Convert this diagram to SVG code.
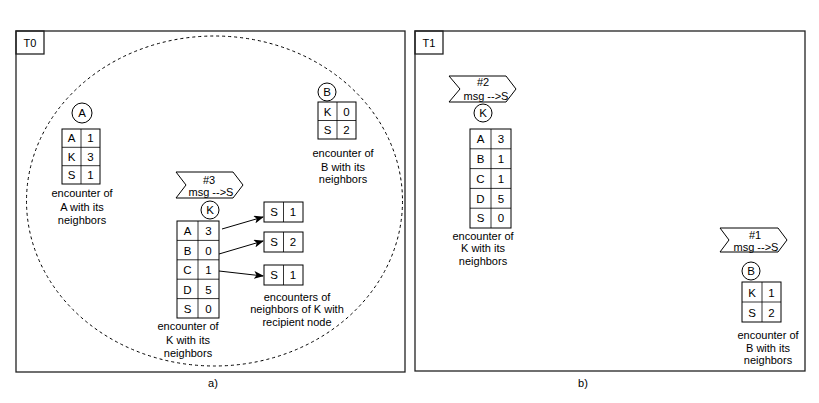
<svg xmlns="http://www.w3.org/2000/svg" width="819" height="403" viewBox="0 0 819 403">
<style>
text{font-family:"Liberation Sans",Arial,sans-serif;fill:#000;text-anchor:middle}
.cap{font-size:11px}
.cell{font-size:11.5px}
.frame{fill:none;stroke:#222;stroke-width:1.3}
.box{fill:#fff;stroke:#000;stroke-width:1}
.grid{stroke:#000;stroke-width:0.8;fill:none}
.edge{stroke:#000;stroke-width:1;fill:none}
</style>
<defs>
<marker id="arr" markerWidth="10" markerHeight="8" refX="9" refY="4" orient="auto" markerUnits="userSpaceOnUse">
<path d="M0,0 L10,4 L0,8 L2.5,4 Z" fill="#000"/>
</marker>
</defs>
<rect width="819" height="403" fill="#fff"/>

<g id="panel-a">
<rect class="frame" x="16" y="31" width="389" height="341"/>
<rect class="frame" x="16" y="31" width="28" height="23"/>
<text class="cap" x="30" y="47">T0</text>
<ellipse cx="214.5" cy="201" rx="188" ry="165" fill="none" stroke="#000" stroke-width="1" stroke-dasharray="3,3"/>
<text class="cap" x="213" y="387">a)</text>
</g>

<g id="panel-b">
<rect class="frame" x="415" y="31" width="390" height="340"/>
<rect class="frame" x="415" y="31" width="28" height="23"/>
<text class="cap" x="429" y="47">T1</text>
<text class="cap" x="583" y="387">b)</text>
</g>

<g id="node-A">
<circle class="box" cx="82" cy="113" r="10"/>
<text class="cell" x="82" y="117">A</text>
<rect class="box" x="62" y="129" width="38" height="55"/>
<path class="grid" d="M81,129V184M62,147.3H100M62,165.7H100"/>
<text class="cell" x="71.5" y="142">A</text><text class="cell" x="90.5" y="142">1</text>
<text class="cell" x="71.5" y="160.5">K</text><text class="cell" x="90.5" y="160.5">3</text>
<text class="cell" x="71.5" y="179">S</text><text class="cell" x="90.5" y="179">1</text>
<text class="cap" x="82" y="197">encounter of</text>
<text class="cap" x="82" y="211">A with its</text>
<text class="cap" x="82" y="224">neighbors</text>
</g>

<g id="node-K-a">
<polygon class="box" points="176,172 233,172 243,185 233,198 176,198 186,185"/>
<text class="cap" x="209" y="184">#3</text>
<text class="cap" x="211" y="196">msg --&gt;S</text>
<circle class="box" cx="210" cy="210" r="9"/>
<text class="cell" x="210" y="214">K</text>
<rect class="box" x="177" y="221" width="42" height="97"/>
<path class="grid" d="M198,221V318M177,240.4H219M177,259.8H219M177,279.2H219M177,298.6H219"/>
<text class="cell" x="187.5" y="235">A</text><text class="cell" x="208.5" y="235">3</text>
<text class="cell" x="187.5" y="254.5">B</text><text class="cell" x="208.5" y="254.5">0</text>
<text class="cell" x="187.5" y="274">C</text><text class="cell" x="208.5" y="274">1</text>
<text class="cell" x="187.5" y="293.5">D</text><text class="cell" x="208.5" y="293.5">5</text>
<text class="cell" x="187.5" y="313">S</text><text class="cell" x="208.5" y="313">0</text>
<text class="cap" x="188" y="330">encounter of</text>
<text class="cap" x="188" y="344">K with its</text>
<text class="cap" x="188" y="357">neighbors</text>
</g>

<g id="node-S1">
<rect class="box" x="264" y="202" width="39" height="20"/>
<path class="grid" d="M283.5,202V222"/>
<text class="cell" x="274" y="216">S</text><text class="cell" x="293" y="216">1</text>
</g>
<g id="node-S2">
<rect class="box" x="264" y="232" width="39" height="20"/>
<path class="grid" d="M283.5,232V252"/>
<text class="cell" x="274" y="246">S</text><text class="cell" x="293" y="246">2</text>
</g>
<g id="node-S3">
<rect class="box" x="264" y="265" width="39" height="20"/>
<path class="grid" d="M283.5,265V285"/>
<text class="cell" x="274" y="279">S</text><text class="cell" x="293" y="279">1</text>
<text class="cap" x="297" y="301">encounters of</text>
<text class="cap" x="297" y="313">neighbors of K with</text>
<text class="cap" x="297" y="326">recipient node</text>
</g>

<g id="node-B-a">
<circle class="box" cx="327" cy="92" r="9"/>
<text class="cell" x="327" y="96">B</text>
<rect class="box" x="318" y="102" width="38" height="37"/>
<path class="grid" d="M337,102V139M318,120.5H356"/>
<text class="cell" x="327.5" y="115.5">K</text><text class="cell" x="346.5" y="115.5">0</text>
<text class="cell" x="327.5" y="134">S</text><text class="cell" x="346.5" y="134">2</text>
<text class="cap" x="343" y="157">encounter of</text>
<text class="cap" x="343" y="171">B with its</text>
<text class="cap" x="343" y="183">neighbors</text>
</g>

<g id="node-K-b">
<polygon class="box" points="449,76 506,76 516,89 506,102 449,102 460,89"/>
<text class="cap" x="483" y="86">#2</text>
<text class="cap" x="486" y="100">msg --&gt;S</text>
<circle class="box" cx="483" cy="113" r="9"/>
<text class="cell" x="483" y="117">K</text>
<rect class="box" x="470" y="129" width="41" height="99"/>
<path class="grid" d="M491,129V228M470,148.8H511M470,168.6H511M470,188.4H511M470,208.2H511"/>
<text class="cell" x="480.5" y="143">A</text><text class="cell" x="501" y="143">3</text>
<text class="cell" x="480.5" y="163">B</text><text class="cell" x="501" y="163">1</text>
<text class="cell" x="480.5" y="182.5">C</text><text class="cell" x="501" y="182.5">1</text>
<text class="cell" x="480.5" y="202.5">D</text><text class="cell" x="501" y="202.5">5</text>
<text class="cell" x="480.5" y="222">S</text><text class="cell" x="501" y="222">0</text>
<text class="cap" x="483" y="240">encounter of</text>
<text class="cap" x="483" y="252">K with its</text>
<text class="cap" x="483" y="265">neighbors</text>
</g>

<g id="node-B-b">
<polygon class="box" points="720,228 778,228 787,240 778,252 720,252 729,240"/>
<text class="cap" x="755" y="239">#1</text>
<text class="cap" x="756" y="251">msg --&gt;S</text>
<circle class="box" cx="751" cy="271" r="9"/>
<text class="cell" x="751" y="275">B</text>
<rect class="box" x="742" y="282" width="39" height="40"/>
<path class="grid" d="M762,282V322M742,302H781"/>
<text class="cell" x="752" y="296.5">K</text><text class="cell" x="771.5" y="296.5">1</text>
<text class="cell" x="752" y="316.5">S</text><text class="cell" x="771.5" y="316.5">2</text>
<text class="cap" x="768" y="339">encounter of</text>
<text class="cap" x="768" y="352">B with its</text>
<text class="cap" x="768" y="364">neighbors</text>
</g>

<g id="connectors">
<line class="edge" x1="222" y1="229" x2="263" y2="217" marker-end="url(#arr)"/>
<line class="edge" x1="219" y1="254" x2="263" y2="241" marker-end="url(#arr)"/>
<line class="edge" x1="219" y1="271" x2="263" y2="276" marker-end="url(#arr)"/>
</g>
</svg>
